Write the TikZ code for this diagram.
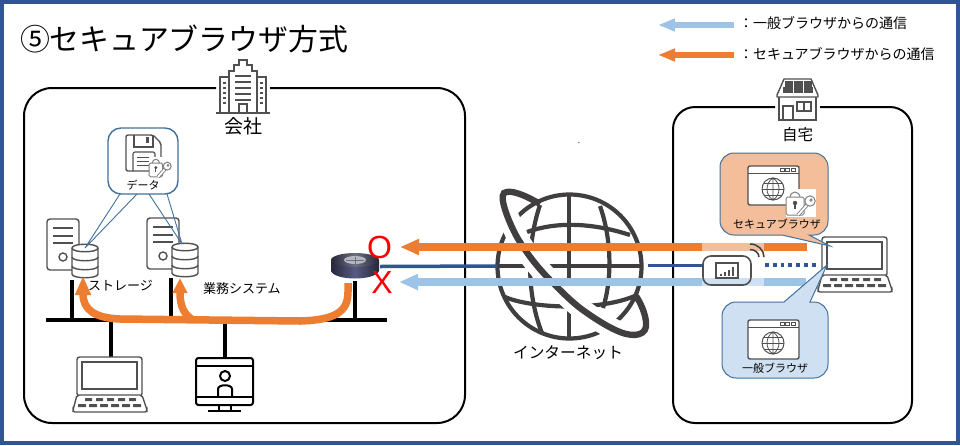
\documentclass[tikz,border=0pt]{standalone}
\usepackage{fontspec}
\setmainfont{Noto Sans CJK JP}
\newfontfamily\latinf{Liberation Sans}
\usetikzlibrary{arrows.meta}
\definecolor{frameblue}{HTML}{2F5597}
\definecolor{flowor}{HTML}{ED7D31}
\definecolor{flowbl}{HTML}{9DC3E6}
\definecolor{lightor}{HTML}{F4BE9A}
\definecolor{lightbl}{HTML}{CFE0F2}
\definecolor{edgebl}{HTML}{41719C}
\definecolor{icongray}{HTML}{505050}
\definecolor{globegray}{HTML}{403E3E}
\definecolor{rtdark}{HTML}{26273A}
\definecolor{rtmid}{HTML}{565A82}
\definecolor{rttop}{HTML}{6E7082}
\definecolor{rtmark}{HTML}{B4B6C2}
\tikzset{
  lbl/.style={inner sep=0pt,outer sep=0pt,text=black},
  icon/.style={draw=icongray,line width=1.4pt},
  wire/.style={draw=black,line width=4pt},
  zone/.style={draw=black,line width=2pt,rounded corners=28pt},
  orflow/.style={draw=flowor,line width=7.5pt,-{Triangle[length=19pt,width=15pt]}},
  blflow/.style={draw=flowbl,line width=7.5pt,-{Triangle[length=19pt,width=15pt]}},
  gl/.style={draw=globegray,line width=4.2pt},
  balloon/.style={draw=edgebl,line width=1pt},
  thinlink/.style={draw=edgebl,line width=0.9pt},
  server/.pic={
    \draw[icon,fill=white,rounded corners=3pt] (0,0) rectangle (32,51);
    \foreach \yy in {9,17,24} \draw[icon] (6,\yy) -- (26,\yy);
    \draw[icon] (16,38) circle (4);
  },
  dbase/.pic={
    \draw[icon,fill=white] (0,4) .. controls (0,-1) and (26,-1) .. (26,4) -- (26,30) .. controls (26,35) and (0,35) .. (0,30) -- cycle;
    \draw[icon] (0,4) .. controls (0,9) and (26,9) .. (26,4);
    \draw[icon] (0,13) .. controls (0,18) and (26,18) .. (26,13);
    \draw[icon] (0,22) .. controls (0,27) and (26,27) .. (26,22);
  },
  laptop/.pic={
    \draw[icon,fill=white,rounded corners=2.5pt] (4,0) rectangle (69,39);
    \draw[icon,fill=white] (9,5) rectangle (64,32);
    \draw[icon,fill=white,rounded corners=2pt] (4,38) -- (69,38) -- (74,53) -- (74,55) -- (0,55) -- (0,53) -- cycle;
    \foreach \xx in {12,23,34,45,56} \fill[icongray,rounded corners=0.5pt] (\xx,41) rectangle +(7,3);
    \foreach \xx in {5,16,27,38,49,60} \fill[icongray,rounded corners=0.5pt] (\xx,47) rectangle +(8,3);
  },
  browserwin/.pic={
    \draw[icon,fill=white,rounded corners=2pt] (0,0) rectangle (51,39);
    \draw[icon,line width=1pt] (0,7.5) -- (51,7.5);
    \foreach \xx in {32,37.5,43} \draw[icon,line width=0.8pt] (\xx,2) rectangle +(4,3.5);
    \draw[icon,line width=1pt] (25,23) circle (11);
    \draw[icon,line width=0.8pt] (25,12) .. controls (17,17) and (17,29) .. (25,34) .. controls (33,29) and (33,17) .. (25,12) -- (25,34);
    \draw[icon,line width=0.8pt] (14,23) -- (36,23) (16,17) -- (34,17) (16,29) -- (34,29);
  },
  lockkey/.pic={
    \fill[white] (0,0) rectangle (30,28);
    \draw[draw=gray,line width=1pt] (4,9) .. controls (4,1) and (14,1) .. (14,9);
    \draw[draw=gray,line width=1pt,fill=white,rounded corners=1.5pt] (0,8) rectangle (18,26);
    \fill[icongray] (9,14) circle (2.2);
    \draw[icongray,line width=1.2pt] (9,15) -- (9,20);
    \draw[gray,line width=3.6pt] (12,26) -- (21,16);
    \draw[white,line width=1.8pt] (12,26) -- (21,16);
    \draw[gray,line width=1pt,fill=white] (24,12) circle (5.2);
    \draw[gray,line width=0.8pt] (25,11) circle (1.2);
  }
}
\begin{document}
\begin{tikzpicture}[x=1pt,y=-1pt]
\useasboundingbox (0,0) rectangle (960,445);
\fill[white] (0,0) rectangle (960,445);
\draw[frameblue,line width=4pt] (2,2) rectangle (958,443);

% zones
\draw[zone] (270,88) -- (465,88) -- (465,423) -- (24,423) -- (24,88) -- (216,88);
\draw[zone,rounded corners=22pt] (820,107) -- (912,107) -- (912,423) -- (673,423) -- (673,107) -- (775,107);

% title and legend
\node[lbl,anchor=west,font=\fontsize{29.9}{32}\selectfont] (title) at (20,39) {⑤セキュアブラウザ方式};
\coordinate (lg1s) at (734,25); \coordinate (lg1e) at (658,25);
\coordinate (lg2s) at (734,55); \coordinate (lg2e) at (658,55);
\draw[blflow,line width=6.5pt,-{Triangle[length=17pt,width=12pt]}] (lg1s) -- (lg1e);
\draw[orflow,line width=6.5pt,-{Triangle[length=17pt,width=12pt]}] (lg2s) -- (lg2e);
\node[lbl,anchor=west,font=\fontsize{14}{15}\selectfont] (lg1) at (739,23) {：一般ブラウザからの通信};
\node[lbl,anchor=west,font=\fontsize{14}{15}\selectfont] (lg2) at (739,54.5) {：セキュアブラウザからの通信};

% building
\begin{scope}[draw=icongray,line width=1.4pt]
  \draw[icon,fill=white] (229,113) -- (229,71) -- (234,71) -- (234,65) -- (239,65) -- (239,60) -- (247,60) -- (247,65) -- (252,65) -- (252,71) -- (257,71) -- (257,113);
  \draw[icon] (229,77) -- (220,77) -- (220,113) (257,77) -- (266,77) -- (266,113);
  \draw[icon] (216,113) -- (270,113);
  \foreach \yy in {76,82,88,94,100} \draw[icon] (235,\yy) -- (251,\yy);
  \foreach \yy in {83,88,93,98,103} {\draw[icon,line width=1.2pt] (223,\yy) -- (226,\yy); \draw[icon,line width=1.2pt] (260,\yy) -- (263,\yy);}
  \draw[icon] (239,113) -- (239,104) -- (247,104) -- (247,113);
\end{scope}
\node[lbl,font=\fontsize{19}{21}\selectfont] (company) at (243.5,126) {会社};

% house
\draw[icon,fill=white] (779,97) -- (779,120) -- (816,120) -- (816,97);
\draw[icon,fill=white,line join=round] (784,79) -- (811,79) -- (818,95) -- (818,97) -- (777,97) -- (777,95) -- cycle;
\foreach \xx/\yy/\ww in {784.5/81/8.5,794/81/8.5,803.5/81/8.5,783/87/9.5,793.5/87/9,803.5/87/9.5} \fill[icongray] (\xx,\yy) rectangle +(\ww,5.5);
\draw[icon,line width=1.1pt] (783,120) -- (783,106) -- (793,106) -- (793,120);
\draw[icon,line width=1.1pt] (797,102) rectangle (811,111) (804,102) -- (804,111);
\node[lbl,font=\fontsize{15.5}{17}\selectfont] (home) at (797.5,135) {自宅};

% bus and stems
\coordinate (busL) at (46,320); \coordinate (busR) at (387,320);
\coordinate (st1) at (72,280); \coordinate (st1b) at (72,320);
\coordinate (st2) at (171,278); \coordinate (st2b) at (171,320);
\coordinate (st3) at (111,320); \coordinate (st3b) at (111,358);
\coordinate (st4) at (225,320); \coordinate (st4b) at (225,358);
\coordinate (st5) at (355,281); \coordinate (st5b) at (355,320);
\draw[wire] (busL) -- (busR);
\foreach \a/\b in {st1/st1b,st2/st2b,st3/st3b,st4/st4b,st5/st5b} \draw[wire] (\a) -- (\b);

% servers
\pic at (47,219) {server};
\pic at (147,218) {server};
\pic at (72,244) {dbase};
\pic at (172,243) {dbase};
\coordinate (db1) at (85,248); \coordinate (db2) at (182,244);

% data box
\node[draw=edgebl,line width=1.4pt,fill=white,rounded corners=13pt,minimum width=70pt,minimum height=66pt,inner sep=0pt] (databox) at (143,161) {};
\coordinate (dl1) at (120,194); \coordinate (dl2) at (137,194);
\coordinate (dl3) at (149,194); \coordinate (dl4) at (167,194);
\draw[thinlink] (dl1) -- (db1) (dl2) -- (db1) (dl3) -- (db2) (dl4) -- (db2);
\draw[icon,fill=white,rounded corners=2pt] (126,135) -- (153,135) -- (161,143) -- (161,171) -- (126,171) -- cycle;
\draw[icon,line width=1.1pt] (134,135) -- (134,147) -- (153,147) -- (153,135);
\fill[icongray] (146,137) rectangle (149,143);
\draw[icon,line width=1.1pt,rounded corners=2pt] (133,171) -- (133,152) -- (155,152) -- (155,171);
\foreach \yy in {157,161,165} \draw[icon,line width=0.9pt] (137,\yy) -- (151,\yy);
\pic[scale=0.76] at (149,157) {lockkey};
\node[lbl,font=\fontsize{11}{13}\selectfont] (datalbl) at (143,185) {データ};

\node[lbl,anchor=west,font=\fontsize{13}{15}\selectfont] (stor) at (88,286) {ストレージ};
\node[lbl,anchor=west,font=\fontsize{13}{15}\selectfont] (biz) at (203,289) {業務システム};

% clients
\pic at (73,357) {laptop};
\draw[draw=black,line width=2pt,fill=white,rounded corners=2.5pt] (196,358) rectangle (253,405);
\draw[black,line width=2pt] (196,366) -- (253,366) (196,397) -- (253,397);
\draw[black,line width=2pt] (225,376) circle (5);
\draw[black,line width=2pt] (218,397) -- (218,389) .. controls (218,384) and (232,384) .. (232,389) -- (232,397);
\draw[black,line width=1.6pt] (219,405) -- (219,411) (231,405) -- (231,411) (208,411) -- (241,411);

% router
\shade[left color=rtdark,right color=rtdark,middle color=rtmid] (331,260) -- (331,271) .. controls (335,281) and (375,281) .. (379,271) -- (379,260) -- cycle;
\shade[left color=rtdark,right color=rtdark,middle color=rttop] (355,260) ellipse (24 and 7);
\fill[rtmark] (355,260) ellipse (11 and 4);
\draw[rttop,line width=0.8pt] (346,260) -- (364,260) (355,256.5) -- (355,263.5);
\node[lbl,text=red,font=\latinf\fontsize{32}{34}\selectfont] (okmark) at (379.5,247) {O};
\node[lbl,text=red,font=\latinf\fontsize{32}{34}\selectfont] (ngmark) at (382,282) {X};

% orange branch flows
\coordinate (rtout) at (348,283); \coordinate (orgA) at (83,276); \coordinate (orgB) at (180,278);
\draw[orflow] (rtout) -- (348,292) .. controls (348,312) and (335,320) .. (300,321) -- (120,319) .. controls (95,318) and (83,310) .. (orgA);
\draw[orflow,-{Triangle[length=15pt,width=14pt]}] (193,320) .. controls (185,315) and (180,308) .. (orgB);

% globe
\draw[gl] (569.5,266.5) circle (72);
\draw[gl] (569,195) -- (569,338) (497,266) -- (642,266);
\draw[gl] (540,205) .. controls (528,240) and (525,290) .. (542,333);
\draw[gl] (600,206) .. controls (612,240) and (612,280) .. (603,308);
\draw[gl] (527,232) .. controls (555,222) and (590,222) .. (630,235);
\draw[gl] (505,297) .. controls (530,308) and (600,312) .. (637,295);
\draw[white,line width=21pt] (506,212) .. controls (511,222) and (515,234) .. (520,242) .. controls (530,258) and (540,270) .. (553,283) .. controls (565,295) and (575,305) .. (587,313) .. controls (600,322) and (610,328) .. (628,336);
\fill[white] (495,190) -- (507,190) -- (507,220) -- (495,220) -- cycle;
\draw[globegray,line width=6.3pt] (540,204) .. controls (525,195) and (510,189) .. (504,193) .. controls (498,198) and (513,232) .. (520,242) .. controls (530,258) and (540,270) .. (553,283) .. controls (565,295) and (575,305) .. (587,313) .. controls (600,322) and (610,328) .. (620,332) .. controls (635,338) and (648,335) .. (646,322) .. controls (645,312) and (640,302) .. (636,296);
\node[lbl,font=\fontsize{15.7}{17}\selectfont] (inet) at (568,353) {インターネット};
\node[lbl,font=\fontsize{8}{9}\selectfont] (dot) at (579,143) {.};

% gateway and lines
\node[draw=none,fill=white,rounded corners=8pt,minimum width=48pt,minimum height=29pt,inner sep=0pt] (gwbg) at (727,270.5) {};
\coordinate (o1) at (807,247); \coordinate (o2) at (764,247); \coordinate (o3) at (702,247); \coordinate (o4) at (400,247);
\coordinate (b1) at (806,282); \coordinate (b2) at (764,282); \coordinate (b3) at (702,282); \coordinate (b4) at (399,282);
\draw[flowor,line width=7.5pt] (o1) -- (o2);
\draw[lightor,line width=7.5pt] (o2) -- (o3);
\draw[orflow] (o3) -- (o4);
\draw[flowbl,line width=7.5pt] (b1) -- (b2);
\draw[lightbl,line width=7.5pt] (b2) -- (b3);
\draw[blflow] (b3) -- (b4);
\coordinate (rtR) at (380,266.5); \coordinate (gL) at (497,266); \coordinate (gR) at (648,265.5); \coordinate (gwL) at (703,265.5);
\draw[frameblue,line width=3.5pt] (rtR) -- (gL);
\draw[frameblue,line width=3.5pt] (gR) -- (gwL);
\coordinate (dotS) at (765,265); \coordinate (dotE) at (818,265);
\draw[frameblue,line width=3.8pt,dash pattern=on 3.8pt off 4pt] (dotS) -- (dotE);
\node[draw=icongray,line width=1.6pt,rounded corners=8pt,minimum width=48pt,minimum height=29pt,inner sep=0pt] (gw) at (727,270.5) {};
\draw[icon,line width=1.2pt,fill=white] (716,263) rectangle (738,278);
\foreach \xx/\hh in {720/2,724/4,728/6,732/9} \fill[icongray] (\xx,275.5) rectangle +(2.4,-\hh);
\draw[globegray,line width=1.5pt] (750,244) .. controls (758,244) and (764,250) .. (764,257);
\draw[globegray,line width=1.5pt] (750,249.5) .. controls (755,249.5) and (759,253) .. (759,257);

% home laptop and balloons
\pic at (818,237) {laptop};
\draw[balloon,fill=lightor] (782,235) [rounded corners=14pt] -- (720,235) -- (720,153) -- (828,153) -- (828,235) [sharp corners] -- (809,235) -- (830,246) -- cycle;
\draw[balloon,fill=lightbl] (784,302) [rounded corners=14pt] -- (722,302) -- (722,378) -- (828,378) -- (828,302) [sharp corners] -- (810,302) -- (827,265) -- cycle;
\pic at (748,166) {browserwin};
\pic at (748,320) {browserwin};
\pic at (786,189) {lockkey};
\node[lbl,font=\fontsize{11}{13}\selectfont] (secb) at (777,224) {セキュアブラウザ};
\node[lbl,font=\fontsize{11}{13}\selectfont] (genb) at (775,368) {一般ブラウザ};
\end{tikzpicture}
\end{document}
